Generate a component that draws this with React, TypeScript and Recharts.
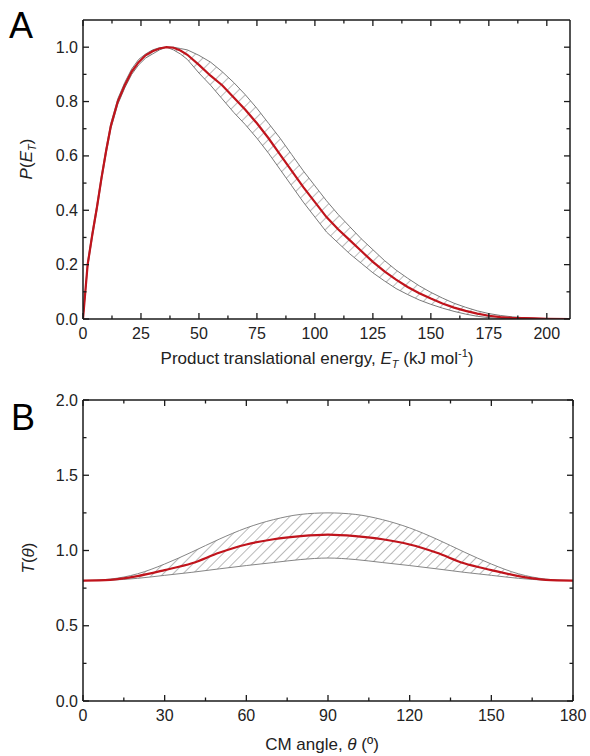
import React from 'react';
import { ComposedChart, Line, Area, XAxis, YAxis } from 'recharts';

// Panel A: product translational energy distribution
const energy = [0, 2, 4, 6, 8, 10, 12, 15, 18, 21, 24, 27, 30, 33, 36, 39, 42, 45, 50, 55, 60, 65, 70, 75, 80, 85, 90, 95, 100, 105, 110, 115, 120, 125, 130, 135, 140, 145, 150, 155, 160, 165, 170, 175, 180, 185, 190, 195, 200, 210];
const pRed = [0, 0.2, 0.31, 0.41, 0.52, 0.62, 0.71, 0.8, 0.86, 0.91, 0.945, 0.97, 0.985, 0.995, 1.0, 0.998, 0.988, 0.972, 0.935, 0.895, 0.86, 0.815, 0.77, 0.72, 0.665, 0.605, 0.545, 0.485, 0.43, 0.375, 0.33, 0.29, 0.25, 0.21, 0.175, 0.145, 0.118, 0.095, 0.075, 0.057, 0.042, 0.03, 0.02, 0.012, 0.007, 0.004, 0.003, 0.002, 0.001, 0];
const pUpper = [0, 0.21, 0.32, 0.42, 0.53, 0.63, 0.72, 0.81, 0.87, 0.92, 0.955, 0.975, 0.99, 0.998, 1.0, 1.0, 0.995, 0.99, 0.97, 0.945, 0.91, 0.87, 0.825, 0.775, 0.72, 0.665, 0.605, 0.545, 0.49, 0.435, 0.385, 0.34, 0.295, 0.255, 0.215, 0.18, 0.15, 0.122, 0.098, 0.077, 0.058, 0.043, 0.03, 0.02, 0.013, 0.008, 0.005, 0.002, 0.001, 0];
const pLower = [0, 0.19, 0.3, 0.4, 0.51, 0.61, 0.7, 0.79, 0.85, 0.9, 0.935, 0.96, 0.975, 0.99, 1.0, 0.99, 0.975, 0.955, 0.905, 0.86, 0.81, 0.76, 0.715, 0.665, 0.61, 0.55, 0.49, 0.43, 0.375, 0.32, 0.28, 0.24, 0.205, 0.17, 0.14, 0.112, 0.09, 0.07, 0.054, 0.04, 0.028, 0.018, 0.01, 0.005, 0.002, 0.001, 0, 0, 0, 0];

const eTicks = [0, 12.5, 25, 37.5, 50, 62.5, 75, 87.5, 100, 112.5, 125, 137.5, 150, 162.5, 175, 187.5, 200];
const eLabels = [0, 25, 50, 75, 100, 125, 150, 175, 200];
const pTicks = [0, 0.1, 0.2, 0.3, 0.4, 0.5, 0.6, 0.7, 0.8, 0.9, 1.0];
const pLabels = [0, 0.2, 0.4, 0.6, 0.8, 1.0];

// Panel B: CM angular distribution
const angle = [0, 10, 20, 30, 40, 50, 60, 70, 80, 90, 100, 110, 120, 130, 140, 150, 160, 170, 180];
const tRed = [0.8, 0.805, 0.83, 0.87, 0.915, 0.985, 1.04, 1.075, 1.095, 1.105, 1.095, 1.075, 1.04, 0.985, 0.915, 0.87, 0.83, 0.805, 0.8];
const tUpper = [0.8, 0.81, 0.845, 0.91, 0.99, 1.075, 1.15, 1.205, 1.24, 1.25, 1.24, 1.205, 1.15, 1.075, 0.99, 0.91, 0.845, 0.81, 0.8];
const tLower = [0.8, 0.803, 0.815, 0.835, 0.855, 0.878, 0.9, 0.92, 0.94, 0.95, 0.94, 0.92, 0.9, 0.878, 0.855, 0.835, 0.815, 0.803, 0.8];

const aTicks = [0, 15, 30, 45, 60, 75, 90, 105, 120, 135, 150, 165, 180];
const aLabels = [0, 30, 60, 90, 120, 150, 180];
const tTicks = [0, 0.25, 0.5, 0.75, 1.0, 1.25, 1.5, 1.75, 2.0];
const tLabels = [0, 0.5, 1.0, 1.5, 2.0];

const dataA = energy.map((e, i) => ({ e, red: pRed[i], up: pUpper[i], lo: pLower[i], band: [pLower[i], pUpper[i]] }));
const dataB = angle.map((a, i) => ({ a, red: tRed[i], up: tUpper[i], lo: tLower[i], band: [tLower[i], tUpper[i]] }));

const FONT = '"Liberation Sans", Arial, sans-serif';
const RED = '#c0141c';
const AXIS = '#1a1a1a';

const isIn = (list: number[], v: number) => list.some((l) => Math.abs(l - v) < 1e-6);

// ticks point inward; labels only on bottom / left
function xTick(labels: number[], side: 'bottom' | 'top') {
  return (props: any) => {
    const { x, y, payload } = props;
    const major = isIn(labels, payload.value);
    const len = major ? 6 : 3.5;
    const dir = side === 'bottom' ? -1 : 1;
    return (
      <g>
        <line x1={x} x2={x} y1={y} y2={y + dir * len} stroke={AXIS} strokeWidth={1.3} />
        {side === 'bottom' && major && (
          <text x={x} y={y + 20} textAnchor="middle" fontSize={16} fill="#222" fontFamily={FONT}>
            {String(payload.value)}
          </text>
        )}
      </g>
    );
  };
}

function yTick(labels: number[], side: 'left' | 'right') {
  return (props: any) => {
    const { x, y, payload } = props;
    const major = isIn(labels, payload.value);
    const len = major ? 6 : 3.5;
    const dir = side === 'left' ? 1 : -1;
    return (
      <g>
        <line x1={x} x2={x + dir * len} y1={y} y2={y} stroke={AXIS} strokeWidth={1.3} />
        {side === 'left' && major && (
          <text x={x - 5} y={y + 5.5} textAnchor="end" fontSize={16} fill="#222" fontFamily={FONT}>
            {payload.value.toFixed(1)}
          </text>
        )}
      </g>
    );
  };
}

const axisLine = { stroke: AXIS, strokeWidth: 1.5 };

export default function App() {
  return (
    <div style={{ position: 'absolute', left: 0, top: 0, width: 590, height: 756, background: '#fff', fontFamily: FONT, color: '#222' }}>
      <div style={{ position: 'absolute', left: 0, top: 0 }}>
        <ComposedChart width={590} height={370} data={dataA} margin={{ top: 19, right: 19, bottom: 21, left: 43 }}>
          <defs>
            <pattern id="hatchA" width="8" height="8" patternUnits="userSpaceOnUse" patternTransform="rotate(45)">
              <line x1="0" y1="0" x2="0" y2="8" stroke="#6a6a6a" strokeWidth={0.9} />
            </pattern>
          </defs>
          <XAxis xAxisId="b" type="number" dataKey="e" domain={[0, 210]} ticks={eTicks} interval={0} height={30}
            tickSize={0} tickMargin={0} tickLine={false} axisLine={axisLine} tick={xTick(eLabels, 'bottom')} allowDataOverflow />
          <XAxis xAxisId="t" orientation="top" type="number" dataKey="e" domain={[0, 210]} ticks={eTicks} interval={0} height={1}
            tickSize={0} tickMargin={0} tickLine={false} axisLine={axisLine} tick={xTick(eLabels, 'top')} allowDataOverflow />
          <YAxis yAxisId="l" type="number" domain={[0, 1.1]} ticks={pTicks} interval={0} width={40}
            tickSize={0} tickMargin={0} tickLine={false} axisLine={axisLine} tick={yTick(pLabels, 'left')} allowDataOverflow />
          <YAxis yAxisId="r" orientation="right" type="number" domain={[0, 1.1]} ticks={pTicks} interval={0} width={1}
            tickSize={0} tickMargin={0} tickLine={false} axisLine={axisLine} tick={yTick(pLabels, 'right')} allowDataOverflow />
          <Area xAxisId="b" yAxisId="l" dataKey="band" type="linear" fill="url(#hatchA)" fillOpacity={1} stroke="none" isAnimationActive={false} />
          <Line xAxisId="b" yAxisId="l" dataKey="up" type="linear" stroke="#6a6a6a" strokeWidth={0.9} dot={false} isAnimationActive={false} />
          <Line xAxisId="b" yAxisId="l" dataKey="lo" type="linear" stroke="#6a6a6a" strokeWidth={0.9} dot={false} isAnimationActive={false} />
          <Line xAxisId="b" yAxisId="l" dataKey="red" type="linear" stroke={RED} strokeWidth={2.2} dot={false} isAnimationActive={false} />
        </ComposedChart>
      </div>

      <div style={{ position: 'absolute', left: 0, top: 370 }}>
        <ComposedChart width={590} height={386} data={dataB} margin={{ top: 29, right: 16, bottom: 25, left: 43 }}>
          <defs>
            <pattern id="hatchB" width="7" height="7" patternUnits="userSpaceOnUse" patternTransform="rotate(45)">
              <line x1="0" y1="0" x2="0" y2="7" stroke="#666" strokeWidth={0.9} />
            </pattern>
          </defs>
          <XAxis xAxisId="b" type="number" dataKey="a" domain={[0, 180]} ticks={aTicks} interval={0} height={30}
            tickSize={0} tickMargin={0} tickLine={false} axisLine={axisLine} tick={xTick(aLabels, 'bottom')} allowDataOverflow />
          <XAxis xAxisId="t" orientation="top" type="number" dataKey="a" domain={[0, 180]} ticks={aTicks} interval={0} height={1}
            tickSize={0} tickMargin={0} tickLine={false} axisLine={axisLine} tick={xTick(aLabels, 'top')} allowDataOverflow />
          <YAxis yAxisId="l" type="number" domain={[0, 2]} ticks={tTicks} interval={0} width={40}
            tickSize={0} tickMargin={0} tickLine={false} axisLine={axisLine} tick={yTick(tLabels, 'left')} allowDataOverflow />
          <YAxis yAxisId="r" orientation="right" type="number" domain={[0, 2]} ticks={tTicks} interval={0} width={1}
            tickSize={0} tickMargin={0} tickLine={false} axisLine={axisLine} tick={yTick(tLabels, 'right')} allowDataOverflow />
          <Area xAxisId="b" yAxisId="l" dataKey="band" type="monotone" fill="url(#hatchB)" fillOpacity={1} stroke="none" isAnimationActive={false} />
          <Line xAxisId="b" yAxisId="l" dataKey="up" type="monotone" stroke="#777" strokeWidth={0.9} dot={false} isAnimationActive={false} />
          <Line xAxisId="b" yAxisId="l" dataKey="lo" type="monotone" stroke="#777" strokeWidth={0.9} dot={false} isAnimationActive={false} />
          <Line xAxisId="b" yAxisId="l" dataKey="red" type="monotone" stroke={RED} strokeWidth={2.2} dot={false} isAnimationActive={false} />
        </ComposedChart>
      </div>

      {/* panel letters */}
      <div style={{ position: 'absolute', left: 9, top: 6, fontSize: 36, lineHeight: '40px', color: '#000' }}>A</div>
      <div style={{ position: 'absolute', left: 11, top: 398, fontSize: 36, lineHeight: '40px', color: '#000' }}>B</div>

      {/* axis titles */}
      <div style={{ position: 'absolute', left: 0, width: 634, top: 343, textAlign: 'center', fontSize: 17, lineHeight: '20px', whiteSpace: 'nowrap' }}>
        Product translational energy, <i>E</i><sub style={{ fontSize: 11, verticalAlign: -4, fontStyle: 'italic' }}>T</sub> (kJ mol<sup style={{ fontSize: 11, verticalAlign: 7 }}>-1</sup>)
      </div>
      <div style={{ position: 'absolute', left: 0, width: 644, top: 735, textAlign: 'center', fontSize: 17, lineHeight: '20px', whiteSpace: 'nowrap' }}>
        CM angle, <i>θ</i> (º)
      </div>
      <div style={{ position: 'absolute', left: 29, top: 159, transform: 'translate(-50%, -50%) rotate(-90deg)', fontSize: 17, lineHeight: '20px', whiteSpace: 'nowrap' }}>
        <i>P</i>(<i>E</i><sub style={{ fontSize: 11, verticalAlign: -4, fontStyle: 'italic' }}>T</sub>)
      </div>
      <div style={{ position: 'absolute', left: 29, top: 558, transform: 'translate(-50%, -50%) rotate(-90deg)', fontSize: 17, lineHeight: '20px', whiteSpace: 'nowrap' }}>
        <i>T</i>(<i>θ</i>)
      </div>
    </div>
  );
}
